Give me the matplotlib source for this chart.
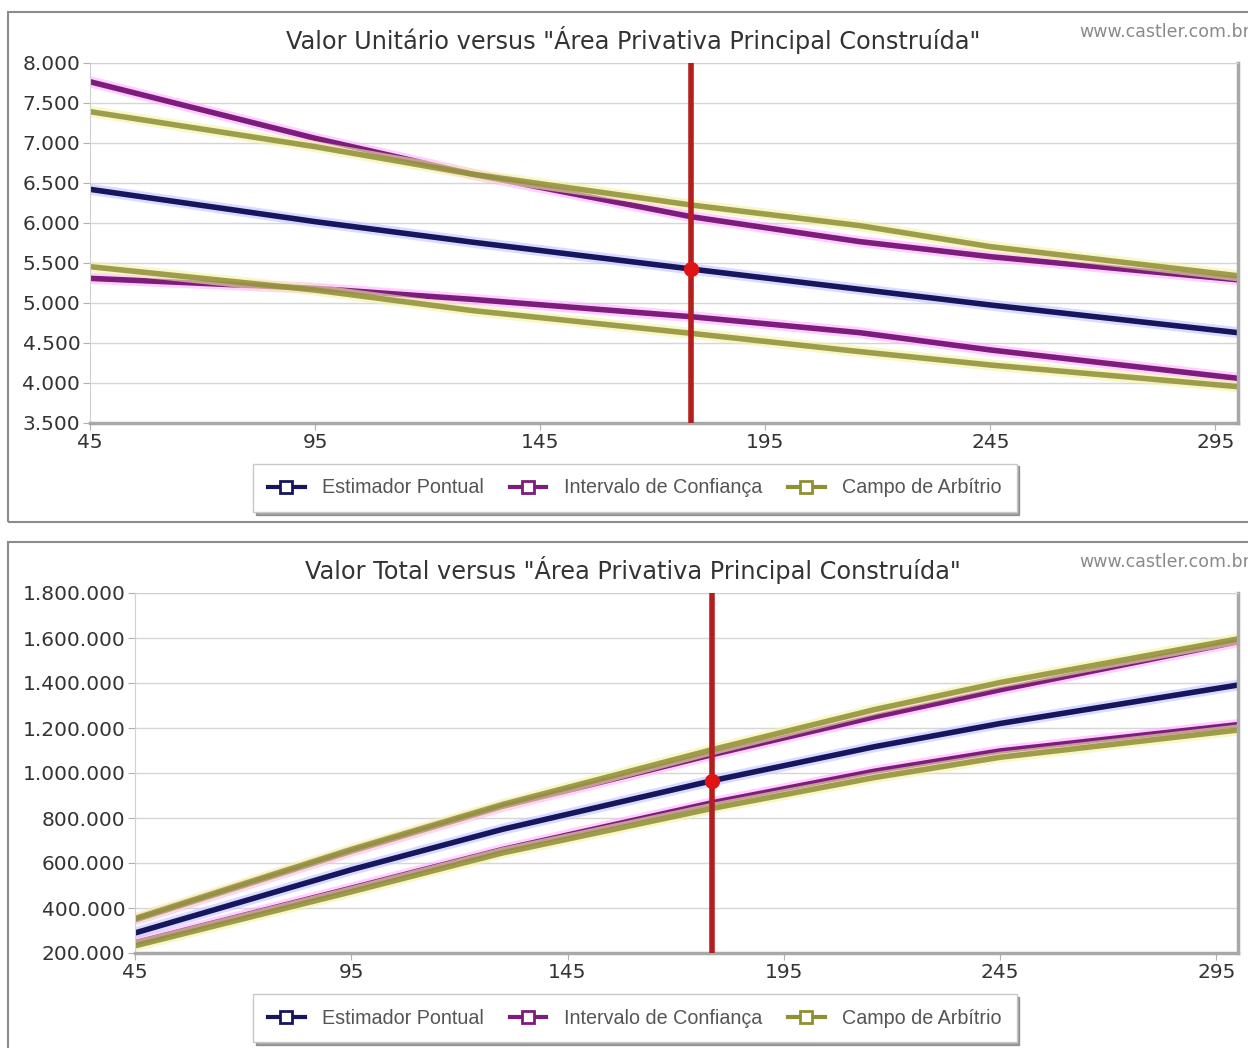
import matplotlib
matplotlib.use('Agg')
from matplotlib import pyplot as plt
from matplotlib import patheffects as pe
from matplotlib.lines import Line2D
from matplotlib.patches import Rectangle
from matplotlib.ticker import FuncFormatter

# area (x) where the curves were read
area = [45, 95, 130, 178.5, 216, 245, 300]
area_ref = 178.5

# unit value (top chart)
unit_est = [6421, 6017, 5760, 5425, 5171, 4975, 4629]
unit_ic_hi = [7766, 7059, 6610, 6079, 5767, 5579, 5290]
unit_ic_lo = [5308, 5183, 5045, 4829, 4629, 4413, 4058]
unit_ca_hi = [7392, 6954, 6610, 6225, 5967, 5704, 5340]
unit_ca_lo = [5454, 5162, 4905, 4621, 4392, 4225, 3954]
unit_ref = 5425

# total value (bottom chart)
total_est = [289000, 570000, 750000, 966000, 1117000, 1220000, 1391000]
total_ic_hi = [347000, 652000, 852000, 1082000, 1250000, 1370000, 1584000]
total_ic_lo = [245000, 488000, 660000, 868000, 1008000, 1098000, 1215000]
total_ca_hi = [353000, 660000, 860000, 1104000, 1282000, 1402000, 1596000]
total_ca_lo = [232000, 472000, 645000, 843000, 980000, 1070000, 1191000]
total_ref = 966000

x_ticks = [45, 95, 145, 195, 245, 295]
legend_labels = ['Estimador Pontual', 'Intervalo de Confiança', 'Campo de Arbítrio']

NAVY = '#16165e'
PURPLE = '#7d1c7d'
OLIVE = '#8f8f34'
HALO = {NAVY: '#c4c4ff', PURPLE: '#ffb0ff', OLIVE: '#f2f2a8'}


def fmt(v, pos=None):
  return '{:,}'.format(int(round(v))).replace(',', '.')


def curve(ax, y, color, alpha=1.0):
  ax.plot(area, y, color=color, lw=4, alpha=alpha, solid_capstyle='butt',
          solid_joinstyle='round',
          path_effects=[pe.Stroke(linewidth=8, foreground=HALO[color], alpha=0.6),
                        pe.Normal()])


def panel(fig, rect_ax, est, ic_hi, ic_lo, ca_hi, ca_lo, ref, ylim, ystep,
          title, legend_y):
  ax = fig.add_axes(rect_ax)
  curve(ax, ic_hi, PURPLE)
  curve(ax, ic_lo, PURPLE)
  curve(ax, ca_hi, OLIVE, 0.85)
  curve(ax, ca_lo, OLIVE, 0.85)
  curve(ax, est, NAVY)
  ax.axvline(area_ref, color='#b31e1e', lw=4, zorder=5)
  ax.plot([area_ref], [ref], 'o', color='#e01414', ms=10, zorder=6)
  ax.set_xlim(45, 300)
  ax.set_ylim(*ylim)
  ax.set_xticks(x_ticks)
  yt = list(range(ylim[0], ylim[1] + 1, ystep))
  ax.set_yticks(yt)
  ax.yaxis.set_major_formatter(FuncFormatter(fmt))
  ax.grid(axis='y', color='#d6d6d6', lw=1)
  ax.set_axisbelow(True)
  ax.tick_params(axis='both', labelsize=14.5, labelcolor='#333333',
                 color='#b0b0b0', length=5, pad=2)
  ax.tick_params(axis='x', pad=2)
  for s in ['left', 'top']:
    ax.spines[s].set_color('#d0d0d0')
  for s in ['right', 'bottom']:
    ax.spines[s].set_color('#a8a8a8')
    ax.spines[s].set_linewidth(2.5)
  left, bottom, width, height = rect_ax
  fig.text(0.507, bottom + height + 0.022, title, ha='center', va='center',
           fontsize=17.3, color='#333333')
  fig.text(0.865, bottom + height + 0.030, 'www.castler.com.br', ha='left',
           va='center', fontsize=12.5, color='#8a8a8a')
  handles = [Line2D([], [], color=c, lw=3, marker='s', ms=9,
                    markerfacecolor='white', markeredgecolor=c, markeredgewidth=2)
             for c in [NAVY, PURPLE, OLIVE]]
  fig.legend(handles, legend_labels, loc='center', ncol=3,
             bbox_to_anchor=(0.5088, legend_y), frameon=True, shadow=True,
             fancybox=False, edgecolor='#c8c8c8', handlelength=1.85,
             columnspacing=1.3, borderpad=0.75, handletextpad=0.9,
             prop={'family': 'Liberation Sans', 'size': 14.2},
             labelcolor='#555555')
  return ax


def main():
  fig = plt.figure(figsize=(12.48, 10.48), dpi=100)
  # panel borders
  fig.patches.append(Rectangle((8 / 1248, 526 / 1048), 1.1, 510 / 1048,
                               transform=fig.transFigure, fill=False,
                               edgecolor='#8c8c8c', lw=1.5))
  fig.patches.append(Rectangle((8 / 1248, -0.1), 1.1, 0.1 + 506 / 1048,
                               transform=fig.transFigure, fill=False,
                               edgecolor='#8c8c8c', lw=1.5))
  panel(fig, [90 / 1248, 625 / 1048, 1148 / 1248, 360 / 1048],
        unit_est, unit_ic_hi, unit_ic_lo, unit_ca_hi, unit_ca_lo, unit_ref,
        (3500, 8000), 500,
        'Valor Unitário versus "Área Privativa Principal Construída"', 0.5344)
  panel(fig, [135 / 1248, 95 / 1048, 1103 / 1248, 360 / 1048],
        total_est, total_ic_hi, total_ic_lo, total_ca_hi, total_ca_lo, total_ref,
        (200000, 1800000), 200000,
        'Valor Total versus "Área Privativa Principal Construída"', 0.0286)
  fig.savefig('out.png', dpi=100)


if __name__ == "__main__":
  main()
